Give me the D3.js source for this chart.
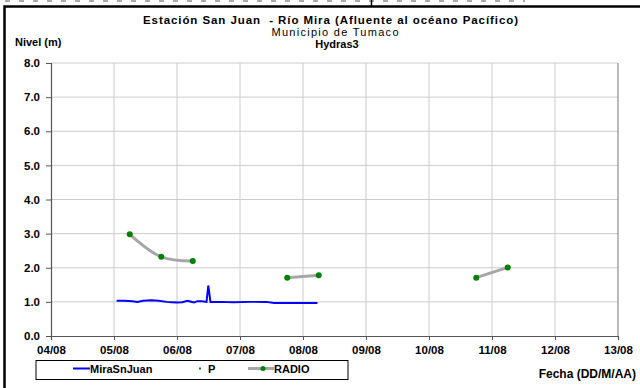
<!DOCTYPE html>
<html><head><meta charset="utf-8">
<script src="https://cdn.jsdelivr.net/npm/d3@7"></script>
<style>body{margin:0;background:#fff}svg{display:block;font-family:"Liberation Sans",Arial,sans-serif}</style>
</head><body>
<svg id="c" width="640" height="388"></svg>
<script>
// ---- data ----
const titleLines = ["Estación San Juan  - Río Mira (Afluente al océano Pacífico)", "Municipio de Tumaco", "Hydras3"];
const yTicks = [0,1,2,3,4,5,6,7,8];
const xTickLabels = ["04/08","05/08","06/08","07/08","08/08","09/08","10/08","11/08","12/08","13/08"];
const miraTimes = ["05/08 01:00","05/08 04:00","05/08 07:00","05/08 09:00","05/08 11:00","05/08 14:00","05/08 17:00","05/08 20:00","05/08 22:00","06/08 00:00","06/08 02:00","06/08 04:00","06/08 05:00","06/08 06:30","06/08 07:45","06/08 09:30","06/08 11:15","06/08 11:55","06/08 12:45","06/08 16:00","06/08 21:30","07/08 04:00","07/08 10:00","07/08 13:00","07/08 18:00","07/08 23:00","08/08 05:30"];
const miraValues = [1.03,1.03,1.02,1.00,1.03,1.05,1.03,1.00,0.99,0.98,0.99,1.03,1.01,0.98,1.02,1.02,1.00,1.48,1.00,1.00,0.99,1.00,1.00,0.97,0.97,0.97,0.97];
const radioTimes = ["05/08 06:00","05/08 18:00","06/08 06:00",null,"07/08 18:00","08/08 06:00",null,"10/08 18:00","11/08 06:00"];
const radioValues = [2.98,2.32,2.20,null,1.71,1.78,null,1.71,2.01];
const legendLabels = ["MiraSnJuan","P","RADIO"];
const xAxisTitle = "Fecha (DD/M/AA)";
const yAxisTitle = "Nivel (m)";

const parse = d3.timeParse("%d/%m %H:%M");
const svg = d3.select("#c");

// frame remnants
svg.append("line").attr("x1",5).attr("x2",525).attr("y1",1).attr("y2",1)
  .attr("stroke","#aaa").attr("stroke-width",2).attr("stroke-dasharray","5,9");
svg.append("line").attr("x1",371.5).attr("x2",371.5).attr("y1",0).attr("y2",6).attr("stroke","#000").attr("stroke-width",1.5);
svg.append("rect").attr("x",4.5).attr("y",6.5).attr("width",700).attr("height",500)
  .attr("fill","none").attr("stroke","#000").attr("stroke-width",2.5);

const L = 51, R = 618, T = 63, B = 336;
const x = d3.scaleTime().domain([parse("04/08 00:00"), parse("13/08 00:00")]).range([L, R]);
const y = d3.scaleLinear().domain([0, 8]).range([B, T]);

// gridlines
const xTickDates = xTickLabels.map(s => parse(s + " 00:00"));
svg.append("g").selectAll("line").data(yTicks.slice(1)).join("line")
  .attr("x1",L).attr("x2",R).attr("y1",d=>y(d)).attr("y2",d=>y(d))
  .attr("stroke","#cccccc").attr("stroke-width",1);
svg.append("g").selectAll("line").data(xTickDates.slice(1,-1)).join("line")
  .attr("x1",d=>x(d)).attr("x2",d=>x(d)).attr("y1",T).attr("y2",B)
  .attr("stroke","#cccccc").attr("stroke-width",1);
svg.append("line").attr("x1",R).attr("x2",R).attr("y1",T).attr("y2",B).attr("stroke","#777").attr("stroke-width",1);

// axes
const yAxis = svg.append("g").attr("transform",`translate(${L},0)`)
  .call(d3.axisLeft(y).tickValues(yTicks).tickFormat(d3.format(".1f")).tickSize(5).tickPadding(6));
const xAxis = svg.append("g").attr("transform",`translate(0,${B})`)
  .call(d3.axisBottom(x).tickValues(xTickDates).tickFormat((d,i)=>xTickLabels[i]).tickSize(4).tickPadding(6));
[yAxis,xAxis].forEach(g=>{
  g.select(".domain").attr("stroke","#555").attr("stroke-width",1.2);
  g.selectAll(".tick line").attr("stroke","#555");
  g.selectAll("text").attr("font-family","Liberation Sans, Arial, sans-serif").attr("font-weight","bold").attr("font-size",11.5).attr("fill","#000");
});

// series
const mira = miraTimes.map((t,i)=>({t:parse(t), v:miraValues[i]}));
svg.append("path").datum(mira)
  .attr("d", d3.line().x(d=>x(d.t)).y(d=>y(d.v)))
  .attr("fill","none").attr("stroke","#0000ff").attr("stroke-width",2);

const radio = radioTimes.map((t,i)=>({t: t ? parse(t) : null, v: radioValues[i]}));
svg.append("path").datum(radio)
  .attr("d", d3.line().defined(d=>d.v!=null).x(d=>x(d.t)).y(d=>y(d.v)).curve(d3.curveCatmullRom.alpha(0.5)))
  .attr("fill","none").attr("stroke","#a6a6a6").attr("stroke-width",3);
svg.append("g").selectAll("circle").data(radio.filter(d=>d.v!=null)).join("circle")
  .attr("cx",d=>x(d.t)).attr("cy",d=>y(d.v)).attr("r",3).attr("fill","#008000");

// titles
const tg = svg.append("g").attr("text-anchor","middle").attr("fill","#000");
tg.append("text").attr("x",330.5).attr("y",24).attr("font-weight","bold").attr("font-size",11.5)
  .attr("xml:space","preserve").attr("textLength",375).attr("lengthAdjust","spacing").text(titleLines[0]);
tg.append("text").attr("x",335).attr("y",36).attr("font-size",11)
  .attr("textLength",127).attr("lengthAdjust","spacing").text(titleLines[1]);
tg.append("text").attr("x",337).attr("y",48).attr("font-weight","bold").attr("font-size",11).text(titleLines[2]);
svg.append("text").attr("x",15).attr("y",46).attr("font-weight","bold").attr("font-size",11).text(yAxisTitle);
svg.append("text").attr("x",636).attr("y",378).attr("text-anchor","end").attr("font-weight","bold").attr("font-size",12).text(xAxisTitle);

// legend
const lg = svg.append("g");
lg.append("rect").attr("x",36).attr("y",360.5).attr("width",312).attr("height",19).attr("fill","#fff").attr("stroke","#000").attr("stroke-width",1);
const ly = 368.5;
lg.append("line").attr("x1",73).attr("x2",90).attr("y1",ly).attr("y2",ly).attr("stroke","#0000ff").attr("stroke-width",2);
lg.append("text").attr("x",90).attr("y",ly+4).attr("font-weight","bold").attr("font-size",11).text(legendLabels[0]);
lg.append("rect").attr("x",199).attr("y",ly-1).attr("width",2).attr("height",2).attr("fill","#008000");
lg.append("text").attr("x",208).attr("y",ly+4).attr("font-weight","bold").attr("font-size",11).text(legendLabels[1]);
lg.append("line").attr("x1",248).attr("x2",274).attr("y1",ly).attr("y2",ly).attr("stroke","#a6a6a6").attr("stroke-width",3);
lg.append("circle").attr("cx",263).attr("cy",ly).attr("r",2.5).attr("fill","#008000");
lg.append("text").attr("x",274).attr("y",ly+4).attr("font-weight","bold").attr("font-size",11).text(legendLabels[2]);
</script>
</body></html>
